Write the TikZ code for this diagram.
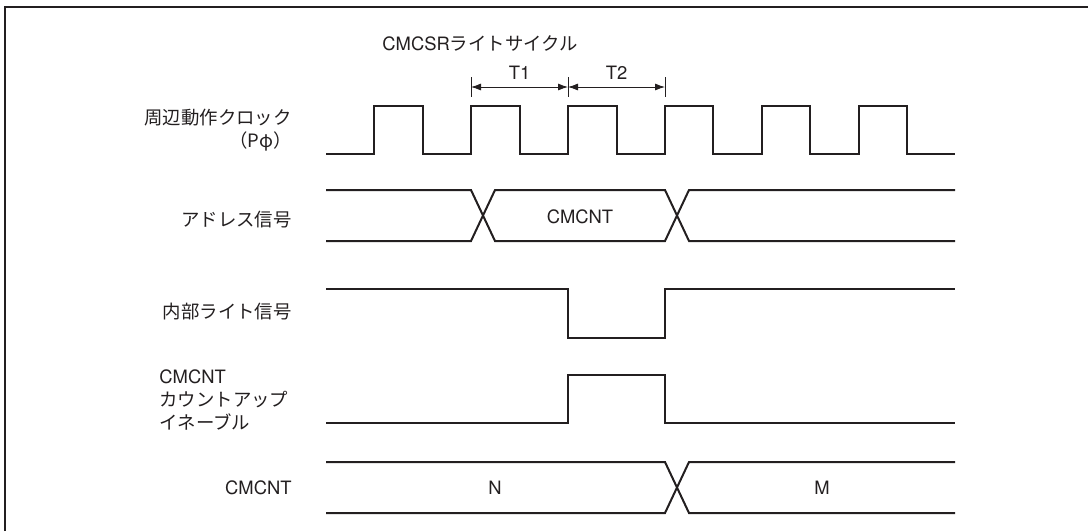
\documentclass[tikz,border=0pt]{standalone}
\usepackage{fontspec}
\setmainfont{TeX Gyre Heros}
\newfontfamily\jp{Noto Sans CJK JP}
\usepackage{tikz}
\usetikzlibrary{arrows.meta}
\definecolor{clinea}{HTML}{231F20}
\tikzset{
  rotulo/.style={font=\fontsize{9.2}{11.3}\selectfont, text=clinea, inner sep=0pt},
  rotuloj/.style={font=\jp\fontsize{9.2}{11.5}\selectfont, text=clinea, inner sep=0pt},
  senal/.style={draw=clinea, line width=1pt},
  cota/.style={{Latex[length=5pt,width=3.5pt]}-{Latex[length=5pt,width=3.5pt]}, draw=clinea, line width=0.4pt},
  marca/.style={draw=clinea, line width=0.4pt},
  marco/.style={draw=clinea, line width=1.3pt},
}

\begin{document}
\begin{tikzpicture}[x=0.5pt,y=-0.5pt]
  \useasboundingbox (0,0) rectangle (1088,531);
  \draw[marco] (5,531)--(5,7)--(1088,7);
  \node[rotulo, anchor=west] (ciclo) at (382,43) {CMCSR{\jp ライトサイクル}};
  \coordinate (c1) at (471,87); \coordinate (c2) at (568,87); \coordinate (c3) at (665,87);
  \draw[marca] (471,77)--(471,97); \draw[marca] (568,77)--(568,97); \draw[marca] (665,77)--(665,97);
  \draw[cota] (c1)--(c2); \draw[cota] (c2)--(c3);
  \node[rotulo] (t1) at (519.5,73) {T1};
  \node[rotulo] (t2) at (616.5,73) {T2};
  \node[rotuloj, anchor=east, align=right] (lreloj) at (292,130.5) {周辺動作クロック\\（Pφ）};
  \draw[senal] (326,154)--(374,154)--(374,106)--(423,106)--(423,154)--(471,154)--(471,106)--(520,106)--(520,154)
    --(568,154)--(568,106)--(617,106)--(617,154)--(665,154)--(665,106)--(713,106)--(713,154)--(762,154)
    --(762,106)--(810,106)--(810,154)--(859,154)--(859,106)--(907,106)--(907,154)--(955,154);
  \node[rotuloj, anchor=east] (ldir) at (292,220) {アドレス信号};
  \draw[senal] (326,190)--(471,190)--(495,241)--(665,241)--(689,190)--(955,190);
  \draw[senal] (326,241)--(471,241)--(495,190)--(665,190)--(689,241)--(955,241);
  \node[rotulo] (dcm) at (580,217) {CMCNT};
  \node[rotuloj, anchor=east] (lescr) at (292,312) {内部ライト信号};
  \draw[senal] (326,289)--(568,289)--(568,338)--(665,338)--(665,289)--(955,289);
  \node[rotulo, anchor=west, align=left] (lhab) at (159,400) {CMCNT\\{\jp カウントアップ}\\{\jp イネーブル}};
  \draw[senal] (326,423)--(568,423)--(568,375)--(665,375)--(665,423)--(955,423);
  \node[rotulo, anchor=east] (lcnt) at (292,488) {CMCNT};
  \draw[senal] (326,462)--(665,462)--(689,513)--(955,513);
  \draw[senal] (326,513)--(665,513)--(689,462)--(955,462);
  \node[rotulo] (vn) at (495,488) {N};
  \node[rotulo] (vm) at (822,488) {M};
\end{tikzpicture}
\end{document}
